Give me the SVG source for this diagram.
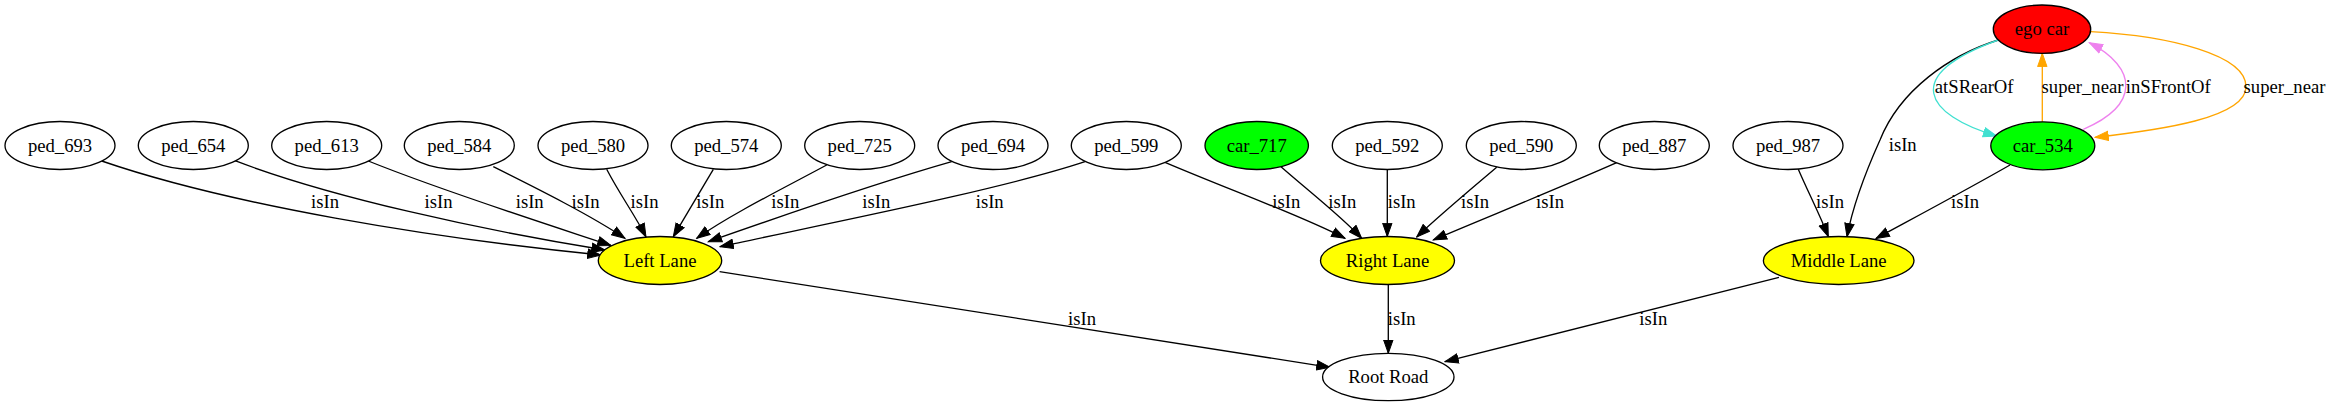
<svg xmlns="http://www.w3.org/2000/svg" width="2331" height="407" viewBox="0 0 2331 407">
<style>
text{font-family:"Liberation Serif","Times New Roman",serif;font-size:18.67px;text-anchor:middle;fill:#000}
.n ellipse{stroke:#000;stroke-width:1.33}
.e path{fill:none;stroke-width:1.33}
.k{stroke:#000}
.o{stroke:#ffa500}
.v{stroke:#ee82ee}
.t{stroke:#40e0d0}
</style>
<defs>
<marker id="ak" markerUnits="userSpaceOnUse" markerWidth="15" markerHeight="11" viewBox="0 0 15 11" refX="13.8" refY="5.5" orient="auto"><path d="M0.5,0.8 L13.8,5.5 L0.5,10.2 z" fill="#000" stroke="#000" stroke-width="1"/></marker>
<marker id="ao" markerUnits="userSpaceOnUse" markerWidth="15" markerHeight="11" viewBox="0 0 15 11" refX="13.8" refY="5.5" orient="auto"><path d="M0.5,0.8 L13.8,5.5 L0.5,10.2 z" fill="#ffa500" stroke="#ffa500" stroke-width="1"/></marker>
<marker id="av" markerUnits="userSpaceOnUse" markerWidth="15" markerHeight="11" viewBox="0 0 15 11" refX="13.8" refY="5.5" orient="auto"><path d="M0.5,0.8 L13.8,5.5 L0.5,10.2 z" fill="#ee82ee" stroke="#ee82ee" stroke-width="1"/></marker>
<marker id="at" markerUnits="userSpaceOnUse" markerWidth="15" markerHeight="11" viewBox="0 0 15 11" refX="13.8" refY="5.5" orient="auto"><path d="M0.5,0.8 L13.8,5.5 L0.5,10.2 z" fill="#40e0d0" stroke="#40e0d0" stroke-width="1"/></marker>
</defs>
<rect width="2331" height="407" fill="#fff"/>
<g id="connectors" class="e">
<path class="k" marker-end="url(#ak)" d="M101.7,161 C230,205 430,238 601,255"/>
<path class="k" marker-end="url(#ak)" d="M235,160.7 C330,197 480,230 605,250"/>
<path class="k" marker-end="url(#ak)" d="M368.3,161 C440,190 540,222 611,245.5"/>
<path class="k" marker-end="url(#ak)" d="M493.3,166.7 C540,190 590,215 625,238.3"/>
<path class="k" marker-end="url(#ak)" d="M606.7,169.3 C620,195 635,215 646,237"/>
<path class="k" marker-end="url(#ak)" d="M713.3,169.3 L673.3,236.7"/>
<path class="k" marker-end="url(#ak)" d="M826.7,165 C780,190 730,215 696.7,238.3"/>
<path class="k" marker-end="url(#ak)" d="M951.7,161.7 C870,185 770,220 708.3,241.7"/>
<path class="k" marker-end="url(#ak)" d="M1085,161.7 C1000,190 820,225 720,246.7"/>
<path class="k" marker-end="url(#ak)" d="M1165,162.3 C1230,190 1300,215 1345,238.3"/>
<path class="k" marker-end="url(#ak)" d="M1281,166.7 C1305,188 1340,215 1361.7,238.3"/>
<path class="k" marker-end="url(#ak)" d="M1387.3,169.3 L1387.3,236.5"/>
<path class="k" marker-end="url(#ak)" d="M1496.7,167.3 C1470,190 1440,215 1416.7,237"/>
<path class="k" marker-end="url(#ak)" d="M1616.7,162.7 C1550,192 1480,220 1433.3,240"/>
<path class="k" marker-end="url(#ak)" d="M1798.3,169.3 C1808,192 1820,215 1828.3,236.7"/>
<path class="k" marker-end="url(#ak)" d="M1998.3,40 C1950,55 1900,90 1880,140 C1862,180 1852,210 1847,236.7"/>
<path class="k" marker-end="url(#ak)" d="M2010,165 C1970,188 1910,220 1876,238.5"/>
<path class="k" marker-end="url(#ak)" d="M719.6,271.7 L1330,367.3"/>
<path class="k" marker-end="url(#ak)" d="M1388.3,284.5 L1388.3,353.3"/>
<path class="k" marker-end="url(#ak)" d="M1779,277.3 L1445,361.7"/>
<path class="t" marker-end="url(#at)" d="M1998.3,40 C1900,75 1925,115 1996.7,136"/>
<path class="o" marker-end="url(#ao)" d="M2042.3,121.7 L2042.3,53.3"/>
<path class="v" marker-end="url(#av)" d="M2083.3,129.3 C2140,105 2138,68 2089.3,42.7"/>
<path class="o" marker-end="url(#ao)" d="M2090.7,31.7 C2170,36 2246,55 2246,86.7 C2246,118 2160,130 2095,137.3"/>
<text x="325" y="208">isIn</text>
<text x="438.5" y="208">isIn</text>
<text x="529.7" y="208">isIn</text>
<text x="585.5" y="208">isIn</text>
<text x="644.5" y="208">isIn</text>
<text x="710.3" y="208">isIn</text>
<text x="785.3" y="208">isIn</text>
<text x="876.3" y="208">isIn</text>
<text x="989.7" y="208">isIn</text>
<text x="1286.3" y="208">isIn</text>
<text x="1342.3" y="208">isIn</text>
<text x="1401.7" y="208">isIn</text>
<text x="1475" y="208">isIn</text>
<text x="1550" y="208">isIn</text>
<text x="1830" y="208">isIn</text>
<text x="1902.7" y="151">isIn</text>
<text x="1965" y="208">isIn</text>
<text x="1082" y="324.5">isIn</text>
<text x="1401.7" y="324.5">isIn</text>
<text x="1653.3" y="324.5">isIn</text>
<text x="1974.2" y="93">atSRearOf</text>
<text x="2082.5" y="93">super_near</text>
<text x="2168.3" y="93">inSFrontOf</text>
<text x="2284.5" y="93">super_near</text>
</g>
<g id="ego_car" class="n"><ellipse cx="2042" cy="29.2" rx="48.7" ry="24.2" fill="#ff0000"/><text x="2042" y="35.2">ego car</text></g>
<g id="car_534" class="n"><ellipse cx="2042.8" cy="145.8" rx="52" ry="24" fill="#00ff00"/><text x="2042.8" y="151.8">car_534</text></g>
<g id="ped_693" class="n"><ellipse cx="60" cy="145.5" rx="55" ry="24" fill="#fff"/><text x="60" y="151.5">ped_693</text></g>
<g id="ped_654" class="n"><ellipse cx="193.3" cy="145.5" rx="55" ry="24" fill="#fff"/><text x="193.3" y="151.5">ped_654</text></g>
<g id="ped_613" class="n"><ellipse cx="326.7" cy="145.5" rx="55" ry="24" fill="#fff"/><text x="326.7" y="151.5">ped_613</text></g>
<g id="ped_584" class="n"><ellipse cx="459.3" cy="145.5" rx="55" ry="24" fill="#fff"/><text x="459.3" y="151.5">ped_584</text></g>
<g id="ped_580" class="n"><ellipse cx="593" cy="145.5" rx="55" ry="24" fill="#fff"/><text x="593" y="151.5">ped_580</text></g>
<g id="ped_574" class="n"><ellipse cx="726.3" cy="145.5" rx="55" ry="24" fill="#fff"/><text x="726.3" y="151.5">ped_574</text></g>
<g id="ped_725" class="n"><ellipse cx="859.7" cy="145.5" rx="55" ry="24" fill="#fff"/><text x="859.7" y="151.5">ped_725</text></g>
<g id="ped_694" class="n"><ellipse cx="993" cy="145.5" rx="55" ry="24" fill="#fff"/><text x="993" y="151.5">ped_694</text></g>
<g id="ped_599" class="n"><ellipse cx="1126.3" cy="145.5" rx="55" ry="24" fill="#fff"/><text x="1126.3" y="151.5">ped_599</text></g>
<g id="car_717" class="n"><ellipse cx="1256.7" cy="145.5" rx="51.7" ry="24" fill="#00ff00"/><text x="1256.7" y="151.5">car_717</text></g>
<g id="ped_592" class="n"><ellipse cx="1387.3" cy="145.5" rx="55" ry="24" fill="#fff"/><text x="1387.3" y="151.5">ped_592</text></g>
<g id="ped_590" class="n"><ellipse cx="1521.3" cy="145.5" rx="55" ry="24" fill="#fff"/><text x="1521.3" y="151.5">ped_590</text></g>
<g id="ped_887" class="n"><ellipse cx="1654.3" cy="145.5" rx="55" ry="24" fill="#fff"/><text x="1654.3" y="151.5">ped_887</text></g>
<g id="ped_987" class="n"><ellipse cx="1788" cy="145.5" rx="55" ry="24" fill="#fff"/><text x="1788" y="151.5">ped_987</text></g>
<g id="left_lane" class="n"><ellipse cx="660" cy="260.5" rx="61.7" ry="24" fill="#ffff00"/><text x="660" y="266.5">Left Lane</text></g>
<g id="right_lane" class="n"><ellipse cx="1387.5" cy="260.5" rx="67" ry="24" fill="#ffff00"/><text x="1387.5" y="266.5">Right Lane</text></g>
<g id="middle_lane" class="n"><ellipse cx="1838.7" cy="260.5" rx="75.3" ry="24" fill="#ffff00"/><text x="1838.7" y="266.5">Middle Lane</text></g>
<g id="root_road" class="n"><ellipse cx="1388.3" cy="377" rx="65.7" ry="23.7" fill="#fff"/><text x="1388.3" y="383">Root Road</text></g>
</svg>
